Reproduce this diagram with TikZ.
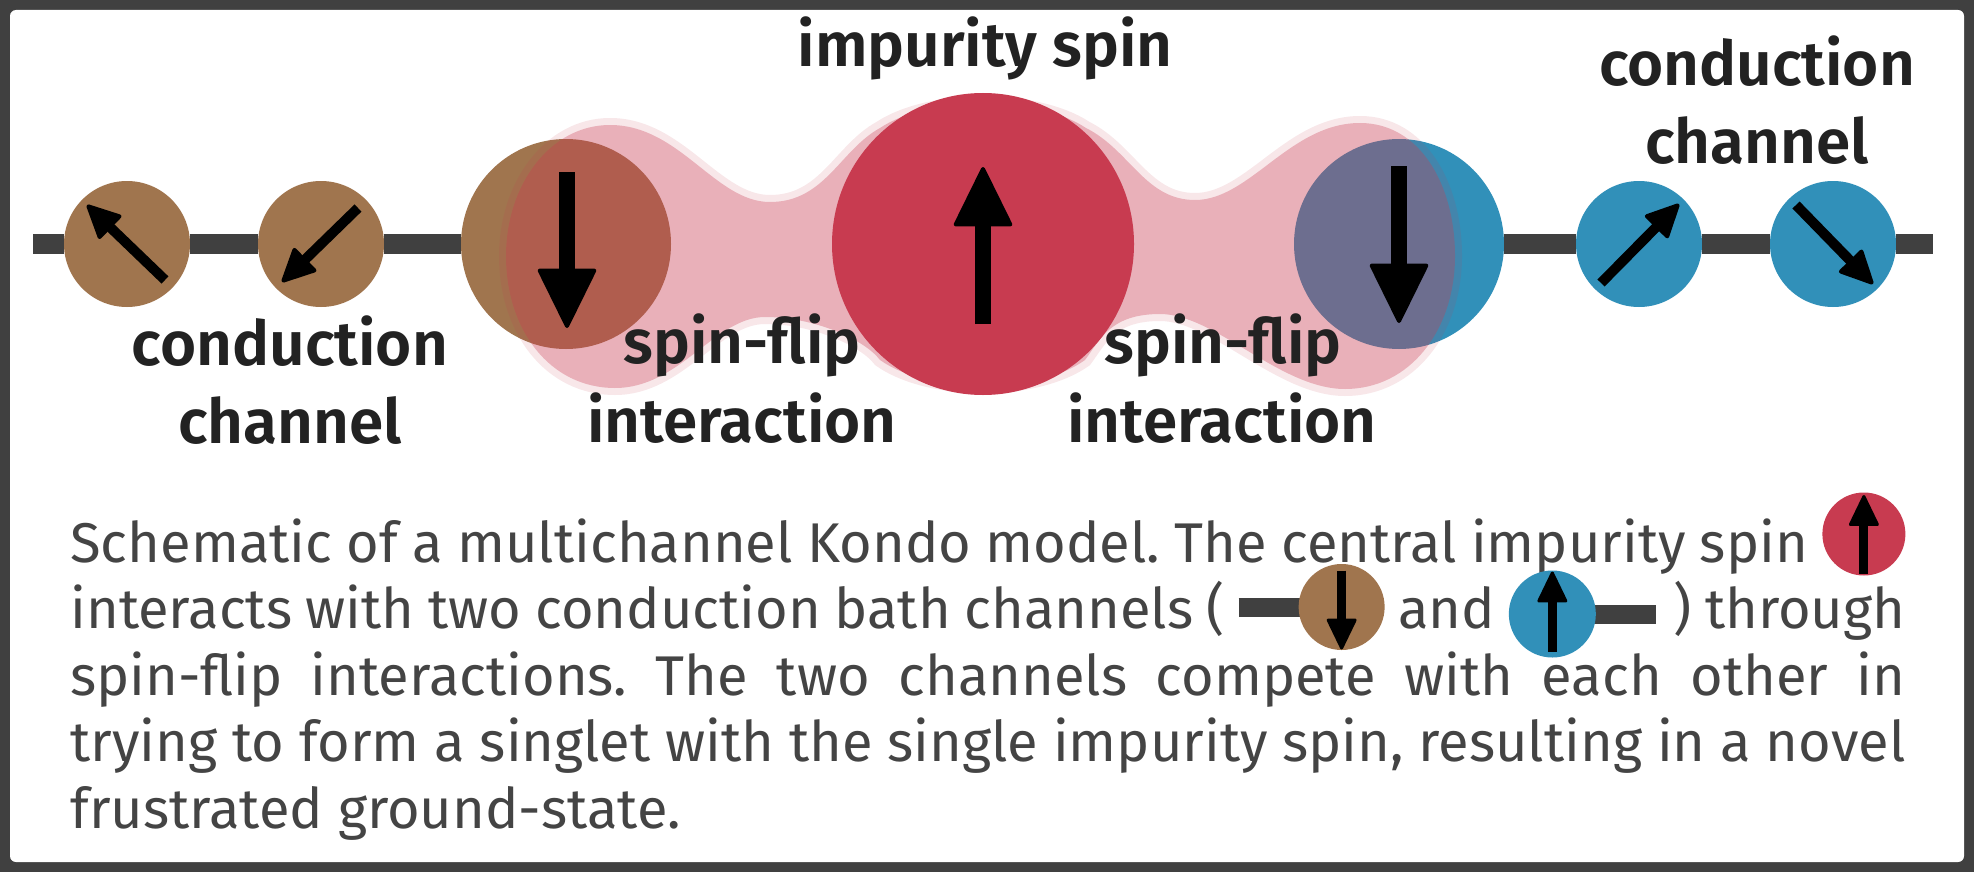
\documentclass[tikz,border=0pt]{standalone}
\usepackage{fontspec}
\setmainfont{Fira Sans}[BoldFont={Fira Sans SemiBold}]
\usepackage{tikz}
\usetikzlibrary{arrows.meta}
\definecolor{frameGray}{HTML}{404040}
\definecolor{chanBrown}{HTML}{A0754E}
\definecolor{chanBlue}{HTML}{3190B9}
\definecolor{impRed}{HTML}{C83B50}
\definecolor{labelInk}{HTML}{222222}
\definecolor{captionInk}{HTML}{444444}

\tikzset{
  spin/.style={circle, inner sep=0pt},
  barline/.style={line width=10pt, frameGray},
  spinarrow/.style={black, line width=5pt, -{Triangle[round, line width=2pt, length=18pt, width=17pt]}},
  bigarrow/.style={black, line width=8pt, -{Triangle[round, line width=2pt, length=31pt, width=30pt]}},
  iconarrow/.style={black, line width=4.5pt, -{Triangle[round, line width=1.5pt, length=16.5pt, width=15.5pt]}},
  lbl/.style={text=labelInk, font=\bfseries\fontsize{31}{37}\selectfont, inner sep=0pt, anchor=base},
}

% inline spins for the caption
\newcommand{\iconImp}{\raisebox{-8.25pt}[0pt][0pt]{\tikz{\fill[impRed] (0,0) circle (20.75pt);
  \draw[iconarrow] (0,-20pt) -- (0,19.5pt);}}}
\newcommand{\iconLeft}{\raisebox{-12.75pt}[0pt][0pt]{\tikz{\draw[line width=9.5pt, frameGray] (-51.5pt,0) -- (0,0);
  \fill[chanBrown] (0,0) circle (21.5pt); \draw[iconarrow] (0,18.25pt) -- (0,-21.25pt);}}}
\newcommand{\iconRight}{\raisebox{-14.5pt}[0pt][0pt]{\tikz{\draw[line width=9.5pt, frameGray] (0,0) -- (51.75pt,0);
  \fill[chanBlue] (0,0) circle (21.75pt); \draw[iconarrow] (0,-18.75pt) -- (0,21.25pt);}}}

\begin{document}
\begin{tikzpicture}[x=0.5pt, y=-0.5pt]
    % Frame
    \fill[frameGray] (0,0) rectangle (1974,872);
    \fill[white, rounded corners=3pt] (10,10) rectangle (1964,862);

    % Bath spins
    \node[spin, fill=chanBrown, minimum size=63pt] (s1) at (127,244) {};
    \node[spin, fill=chanBrown, minimum size=63pt] (s2) at (321,244) {};
    \node[spin, fill=chanBrown, minimum size=105pt] (s3) at (566,244) {};
    \node[spin, fill=chanBlue, minimum size=105pt] (s5) at (1399,244) {};
    \node[spin, fill=chanBlue, minimum size=63pt] (s6) at (1639,244) {};
    \node[spin, fill=chanBlue, minimum size=63pt] (s7) at (1833,244) {};

    % Conduction chains
    \coordinate (barL) at (33,244);
    \coordinate (barR) at (1933,244);
    \draw[barline] (barL) -- (s1) (s1) -- (s2) (s2) -- (s3);
    \draw[barline] (s5) -- (s6) (s6) -- (s7) (s7) -- (barR);

    % Spin-flip coupling cloud (soft edge)
    \begin{scope}[transparency group, opacity=0.4]
    \filldraw[impRed, draw opacity=0.3, line width=7pt] (506,256)
      .. controls (506,185) and (550,125) .. (610,125)
      .. controls (680,125) and (715,202) .. (770,202)
      .. controls (825,202) and (840,150) .. (880,128)
      .. controls (930,95) and (1036,95) .. (1086,128)
      .. controls (1130,150) and (1145,200) .. (1195,200)
      .. controls (1250,200) and (1290,123) .. (1360,123)
      .. controls (1420,123) and (1455,185) .. (1455,256)
      .. controls (1455,330) and (1410,389) .. (1345,389)
      .. controls (1280,389) and (1215,314) .. (1160,314)
      .. controls (1110,314) and (1100,340) .. (1085,360)
      .. controls (1036,395) and (930,395) .. (880,360)
      .. controls (865,340) and (815,317) .. (765,317)
      .. controls (715,317) and (680,388) .. (615,388)
      .. controls (550,388) and (506,330) .. (506,256) -- cycle;
    \end{scope}

    % Impurity spin
    \node[spin, fill=impRed, minimum size=151pt] (imp) at (983,244) {};

    % Spin directions
    \draw[spinarrow] ([shift={(38,36)}]s1.center) -- ([shift={(-40,-39)}]s1.center);
    \draw[spinarrow] ([shift={(37,-36)}]s2.center) -- ([shift={(-39,38)}]s2.center);
    \draw[bigarrow] ([shift={(1,-72)}]s3.center) -- ([shift={(1,84)}]s3.center);
    \draw[bigarrow] ([shift={(0,80)}]imp.center) -- ([shift={(0,-77)}]imp.center);
    \draw[bigarrow] ([shift={(0,-78)}]s5.center) -- ([shift={(0,79)}]s5.center);
    \draw[spinarrow] ([shift={(-38,39)}]s6.center) -- ([shift={(40,-40)}]s6.center);
    \draw[spinarrow] ([shift={(-37,-39)}]s7.center) -- ([shift={(40,40)}]s7.center);

    % Labels
    \node[lbl] (impLabel) at (985,67) {impurity spin};
    \node[lbl] (condLa) at (290,365) {conduction};
    \node[lbl] (condLb) at (290,443) {channel};
    \node[lbl] (flipLa) at (742,363) {spin-flip};
    \node[lbl] (flipLb) at (742,442) {interaction};
    \node[lbl] (flipRa) at (1223,363) {spin-flip};
    \node[lbl] (flipRb) at (1222,442) {interaction};
    \node[lbl] (condRa) at (1757,86) {conduction};
    \node[lbl] (condRb) at (1757,163) {channel};

    % Caption
    \node[anchor=base west, inner sep=0pt, text=captionInk] (caption) at (70,562)
      {\parbox[t]{917.5pt}{\fontsize{28}{33.25}\selectfont\frenchspacing\hyphenpenalty=10000
      Schematic of a multichannel Kondo model. The central impurity spin \iconImp\linebreak
      interacts with two conduction bath channels (\kern2pt\iconLeft{} and \iconRight\kern4pt) through\linebreak
      spin-flip interactions. The two channels compete with each other in\linebreak
      trying to form a singlet with the single impurity spin, resulting in a novel\linebreak
      frustrated ground-state.}};
\end{tikzpicture}
\end{document}
